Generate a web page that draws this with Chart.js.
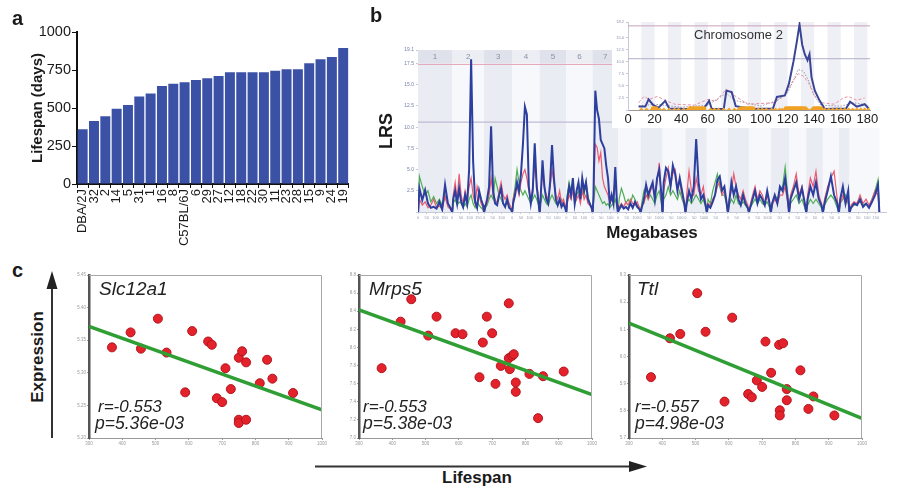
<!DOCTYPE html>
<html>
<head>
<meta charset="utf-8">
<script src="https://cdn.jsdelivr.net/npm/chart.js@4.4.1/dist/chart.umd.min.js"></script>
<style>
  body { margin: 0; background: #fff; width: 902px; height: 489px; position: relative; overflow: hidden;
         font-family: "Liberation Sans", Arial, sans-serif; }
  .box { position: absolute; }
  .t { position: absolute; white-space: nowrap; color: #1a1a1a; line-height: 1; }
  .rot { transform: translate(-50%, -50%) rotate(-90deg); }
  .it { font-style: italic; color: #222; }
</style>
</head>
<body>

<div class="box" style="left:0;top:0;width:360px;height:250px"><canvas id="chartA"></canvas></div>
<div class="box" style="left:370px;top:40px;width:532px;height:210px"><canvas id="chartB"></canvas></div>
<div class="box" style="left:612px;top:12px;width:278px;height:116px;background:#fff"><canvas id="chartInset"></canvas></div>
<div class="box" style="left:70px;top:268px;width:262px;height:180px"><canvas id="chartC1"></canvas></div>
<div class="box" style="left:340px;top:268px;width:262px;height:180px"><canvas id="chartC2"></canvas></div>
<div class="box" style="left:610px;top:268px;width:262px;height:180px"><canvas id="chartC3"></canvas></div>

<div class="t" style="left:12px;top:8px;font-size:20px;font-weight:bold">a</div>
<div class="t" style="left:370px;top:5px;font-size:20px;font-weight:bold">b</div>
<div class="t" style="left:12px;top:260px;font-size:20px;font-weight:bold">c</div>
<div class="t" style="left:694px;top:28px;font-size:13px;color:#333">Chromosome 2</div>

<div class="t rot" style="left:37px;top:357px;font-size:17px;font-weight:bold">Expression</div>
<div class="t" style="left:442px;top:469px;font-size:17px;font-weight:bold">Lifespan</div>

<div class="t it" style="left:99px;top:279px;font-size:19px">Slc12a1</div>
<div class="t it" style="left:98px;top:398px;font-size:17px">r=-0.553</div>
<div class="t it" style="left:95px;top:415px;font-size:17.5px">p=5.36e-03</div>

<div class="t it" style="left:369px;top:279px;font-size:19px">Mrps5</div>
<div class="t it" style="left:363px;top:398px;font-size:17px">r=-0.553</div>
<div class="t it" style="left:363px;top:415px;font-size:17.5px">p=5.38e-03</div>

<div class="t it" style="left:637px;top:279px;font-size:19px">Ttl</div>
<div class="t it" style="left:635px;top:398px;font-size:17px">r=-0.557</div>
<div class="t it" style="left:635px;top:415px;font-size:17.5px">p=4.98e-03</div>

<svg class="box" style="left:0;top:0" width="902" height="489">
  <line x1="52" y1="438" x2="52" y2="286" stroke="#333" stroke-width="2"/>
  <polygon points="46.5,289 57.5,289 52,271" fill="#222"/>
  <line x1="315" y1="466.5" x2="631" y2="466.5" stroke="#333" stroke-width="2"/>
  <polygon points="629,461 629,472 647,466.5" fill="#222"/>
</svg>

<script>
Chart.defaults.font.family = "'Liberation Sans', Arial, sans-serif";
Chart.defaults.animation = false;

// ---- panel a: lifespan per strain
const STRAINS  = ['DBA/2J','32','2','14','5','31','1','16','8','C57BL/6J','6','29','27','12',
                  '18','22','30','11','23','28','15','9','24','19'];
const LIFESPAN = [360, 415, 445, 495, 520, 575, 595, 645, 660, 670, 685, 695, 710, 735,
                  735, 735, 735, 745, 755, 755, 795, 820, 835, 895];

// ---- panel b: genome scan (LRS sampled evenly along each chromosome)
const CHROMS   = ['1','2','3','4','5','6','7','8','9','10','11','12','13','14','15','16','17','18','19','X'];
const CHROM_MB = [195, 182, 160, 157, 152, 150, 145, 129, 125, 131, 122, 120, 120, 125, 104, 98, 95, 91, 61, 171];
const SUGGESTIVE  = 10.6;
const SIGNIFICANT = 17.4;

const LRS_BLUE = [
  [2.8, 1.4, 2.6, 1.0, 0.5, 0.6, 0.4, 1.2, 0.3, 3.2, 1.0, 0.4],
  [1.5, 2.5, 1.0, 2.8, 1.2, 0.6, 2.0, 1.0, 5.0, 18.0, 6.0, 1.2, 0.5, 2.5, 1.5, 0.8],
  [0.5, 1.5, 3.0, 10.1, 2.5, 1.0, 0.8, 2.0, 2.8, 1.0, 0.6, 1.5, 0.5, 0.3],
  [1.0, 2.0, 3.5, 2.5, 4.5, 8.0, 12.4, 11.5, 3.0, 1.0, 2.5, 8.1, 3.0, 1.0],
  [1.5, 6.1, 3.0, 1.5, 1.0, 3.5, 7.9, 4.0, 1.5, 0.8, 1.5, 0.6, 1.0, 0.4],
  [1.5, 3.0, 2.0, 4.0, 1.0, 2.5, 3.5, 1.5, 4.0, 2.5, 3.5, 1.5, 1.0, 0.5],
  [2.0, 14.3, 12.0, 11.0, 8.5, 8.0, 7.5, 5.5, 4.0, 1.0, 2.0, 1.0, 5.3, 0.8],
  [0.3, 0.8, 0.4, 0.6, 0.3, 1.0, 0.5, 1.2, 0.6, 0.3],
  [0.5, 1.5, 3.2, 2.0, 2.8, 3.5, 1.5, 4.0, 5.0, 2.0],
  [3.5, 5.2, 4.8, 3.0, 5.5, 4.5, 2.5, 4.0, 2.5, 1.0],
  [1.0, 2.5, 1.5, 3.0, 8.6, 3.5, 1.5, 2.0, 0.8],
  [0.8, 0.5, 1.2, 2.0, 3.8, 4.2, 2.5, 3.0, 1.0],
  [1.0, 3.5, 2.0, 3.0, 1.5, 0.8, 2.0, 1.0, 0.5],
  [0.5, 1.5, 2.5, 1.0, 2.0, 1.5, 0.8, 2.5, 1.0],
  [1.0, 2.0, 1.0, 3.0, 2.5, 4.0, 1.5],
  [1.5, 2.5, 3.5, 1.5, 2.8, 1.0],
  [1.5, 3.0, 2.0, 3.5, 1.5, 0.8],
  [1.0, 2.5, 4.2, 2.0, 1.0],
  [1.5, 3.0, 1.0, 2.5],
  [0.5, 1.0, 0.8, 1.5, 0.6, 1.0, 0.5, 1.2, 2.0, 3.2]
];
const LRS_RED = [
  [1.5, 0.8, 1.2, 0.5, 0.8, 1.5, 0.5, 0.7, 0.4, 1.8, 0.6, 0.3],
  [2.0, 3.5, 1.5, 4.5, 2.0, 1.0, 2.5, 1.5, 3.0, 4.0, 2.0, 1.0, 3.0, 2.0, 1.0, 0.5],
  [0.8, 1.0, 2.0, 4.0, 2.0, 1.5, 1.0, 2.5, 3.5, 2.0, 1.5, 2.0, 1.0, 0.5],
  [1.5, 2.5, 3.0, 2.0, 3.5, 4.5, 5.0, 4.0, 2.5, 1.5, 3.0, 5.5, 3.5, 1.5],
  [2.0, 4.5, 3.0, 2.0, 1.5, 3.0, 5.0, 3.5, 2.0, 1.5, 2.5, 1.0, 1.5, 0.8],
  [1.0, 2.0, 1.5, 2.5, 1.0, 1.5, 2.0, 1.0, 2.5, 1.5, 2.0, 1.0, 0.8, 0.4],
  [1.5, 8.0, 7.6, 6.0, 7.0, 4.0, 3.0, 2.5, 2.0, 1.0, 1.5, 2.0, 4.0, 1.0],
  [0.5, 1.0, 0.6, 1.2, 0.8, 1.5, 1.0, 0.8, 1.2, 0.5],
  [0.8, 1.0, 2.0, 1.5, 2.5, 3.0, 2.0, 3.5, 5.8, 1.5],
  [2.5, 4.0, 5.2, 3.0, 4.5, 5.0, 3.0, 3.5, 2.0, 1.0],
  [2.0, 4.8, 2.5, 2.0, 4.0, 2.5, 2.0, 3.0, 1.0],
  [1.0, 0.8, 1.5, 2.0, 3.0, 3.5, 2.0, 2.5, 1.0],
  [1.5, 2.5, 4.5, 3.0, 2.0, 1.5, 2.5, 1.5, 0.8],
  [0.8, 2.0, 3.0, 1.5, 2.5, 2.0, 1.0, 2.0, 0.8],
  [0.8, 1.5, 1.0, 2.0, 2.0, 3.0, 1.0],
  [2.0, 3.0, 4.5, 2.0, 3.0, 1.0],
  [2.0, 4.0, 3.0, 4.8, 2.0, 1.0],
  [1.5, 3.0, 4.0, 4.8, 1.5],
  [1.0, 2.0, 1.0, 1.5],
  [0.8, 1.2, 1.0, 2.0, 1.0, 1.5, 0.8, 1.5, 2.5, 2.0]
];
const LRS_GREEN = [
  [4.2, 3.0, 2.0, 2.5, 1.2, 1.8, 1.0, 1.5, 0.8, 2.0, 1.0, 0.5],
  [1.0, 1.5, 0.8, 1.2, 1.0, 0.5, 1.0, 0.6, 1.5, 2.0, 1.0, 0.5, 1.2, 0.8, 0.5, 0.3],
  [0.5, 0.8, 1.5, 2.0, 1.5, 4.0, 3.0, 2.0, 1.5, 1.0, 0.8, 1.2, 0.5, 0.3],
  [1.5, 3.0, 5.0, 3.5, 2.5, 2.0, 2.5, 2.0, 1.5, 1.0, 1.5, 2.0, 1.5, 0.8],
  [1.0, 2.0, 1.5, 1.0, 0.8, 1.5, 2.0, 1.5, 1.0, 0.8, 1.2, 1.5, 0.8, 0.5],
  [2.0, 3.5, 2.5, 3.0, 1.5, 2.0, 2.5, 1.5, 3.0, 2.0, 3.5, 2.0, 1.0, 0.5],
  [1.0, 3.0, 2.5, 2.0, 1.5, 1.0, 1.2, 0.8, 1.0, 0.5, 0.8, 1.0, 1.5, 0.5],
  [1.5, 2.8, 2.0, 1.0, 1.5, 1.0, 2.0, 1.5, 0.8, 0.5],
  [1.0, 2.5, 3.0, 1.5, 2.0, 1.5, 1.0, 2.0, 2.5, 1.0],
  [1.5, 2.0, 3.0, 2.0, 2.5, 2.0, 1.5, 2.5, 1.5, 0.8],
  [1.0, 1.5, 1.0, 1.5, 2.0, 1.5, 1.0, 1.5, 0.5],
  [1.5, 1.0, 2.5, 3.5, 4.5, 3.0, 2.0, 2.0, 0.8],
  [0.8, 1.5, 1.0, 2.0, 1.0, 0.8, 1.2, 0.8, 0.4],
  [0.5, 1.0, 1.5, 1.0, 1.5, 1.0, 0.8, 1.2, 0.5],
  [1.0, 2.0, 1.5, 2.5, 3.0, 5.3, 2.0],
  [1.0, 1.5, 2.0, 1.0, 1.5, 0.5],
  [0.8, 1.5, 1.0, 1.5, 1.0, 0.5],
  [0.8, 1.5, 2.0, 1.5, 0.5],
  [1.0, 1.5, 2.0, 1.0],
  [0.5, 0.8, 1.0, 1.2, 0.8, 1.0, 0.6, 1.5, 2.5, 3.8]
];

// ---- inset: chromosome 2
const CHR2_TICKS    = [0, 20, 40, 60, 80, 100, 120, 140, 160, 180];
const CHR2_BLUE_MB  = [8, 13, 15.5, 19, 23, 28, 31, 45, 57, 61, 63, 72, 74, 78, 81, 94, 109, 112, 118, 121,
                       124.5, 127, 129, 131, 133, 135, 136.5, 138, 140.5, 144, 148, 164, 167, 172, 178, 181];
const CHR2_BLUE_LRS = [0.7, 0.7, 2.2, 1.0, 0.5, 1.9, 0.3, 0.2, 0.3, 1.9, 0.2, 0.2, 4.0, 3.7, 0.8, 0.2, 0.3, 2.7, 3.0, 5.4,
                       10.1, 14.2, 17.7, 13.5, 11.5, 10.3, 11.5, 6.8, 4.0, 2.0, 0.2, 0.3, 1.7, 0.7, 1.2, 0.3];
const CHR2_PINK_MB  = [8, 12, 16, 22, 28, 35, 50, 60, 66, 74, 80, 90, 110, 118, 124, 128, 132, 136, 140, 146, 155, 162, 166, 172, 178];
const CHR2_PINK_LRS = [1.5, 2.8, 2.2, 2.8, 2.0, 1.2, 1.0, 2.2, 1.8, 4.3, 3.0, 1.2, 1.5, 3.0, 6.0, 7.5, 7.0, 5.5, 3.0, 1.5, 1.2, 2.5, 2.8, 2.0, 2.5];
const CHR2_GREY_MB  = [8, 20, 40, 60, 74, 80, 100, 112, 120, 125, 128, 132, 136, 140, 145, 160, 170, 180];
const CHR2_GREY_LRS = [0.8, 1.2, 0.6, 1.0, 3.5, 2.0, 0.8, 2.0, 3.5, 6.5, 8.4, 8.0, 6.0, 3.0, 1.0, 0.8, 1.5, 1.0];
const SNP_SMALL_MB  = [10, 14, 18, 24, 27, 31, 35, 38, 42, 45, 62, 65, 68, 72, 76, 80, 83, 98, 101, 104, 108, 111, 114, 116,
                       135, 138, 148, 151, 154, 157, 160, 163, 166, 169, 172, 175, 178, 181];
const SNP_LARGE_MB  = [20, 48, 52, 56, 86, 90, 93, 120, 123, 126, 129, 132, 141, 144];

// ---- panel c: expression vs lifespan
const SLC_X = [369, 425, 456, 507, 533, 589, 610, 658, 669, 684, 700, 710, 726, 750, 760, 772, 750, 750, 772, 813, 835, 851, 913];
const SLC_Y = [5.339, 5.362, 5.337, 5.383, 5.331, 5.270, 5.364, 5.348, 5.343, 5.261, 5.255, 5.307, 5.275, 5.323, 5.333,
               5.316, 5.228, 5.223, 5.228, 5.284, 5.320, 5.291, 5.269];
const SLC_FIT = [5.371, 5.243];

const MRPS_X = [368, 425, 457, 508, 533, 590, 611, 662, 672, 684, 700, 710, 726, 750, 750, 753, 760, 765, 771, 771, 812, 838, 853, 915];
const MRPS_Y = [7.771, 8.285, 8.532, 8.131, 8.340, 8.157, 8.146, 7.671, 8.054, 8.340, 8.157, 7.598, 7.796, 8.487, 7.881,
                7.760, 7.907, 7.925, 7.613, 7.510, 7.708, 7.219, 7.682, 7.734];
const MRPS_FIT = [8.414, 7.480];

const TTL_X = [366, 423, 454, 505, 530, 587, 610, 658, 669, 684, 700, 710, 727, 751, 763, 753, 753, 774, 774, 815, 839, 854, 917];
const TTL_Y = [5.924, 6.067, 6.083, 6.233, 6.091, 5.834, 6.143, 5.862, 5.850, 5.912, 5.888, 6.055, 5.940, 6.043, 6.049,
               5.802, 5.783, 5.880, 5.839, 5.949, 5.807, 5.853, 5.783];
const TTL_FIT = [6.1225, 5.772];

// ------------------------------------------------------------------
const CHROM_START = [];
CHROM_MB.reduce((acc, len) => { CHROM_START.push(acc); return acc + len; }, 0);
const GENOME_END = CHROM_START[CHROM_START.length - 1] + CHROM_MB[CHROM_MB.length - 1];

function genomeSeries(perChrom) {
  const pts = [];
  perChrom.forEach((vals, i) => {
    const n = vals.length;
    pts.push({ x: CHROM_START[i] + 1, y: 0 });
    vals.forEach((v, k) => pts.push({ x: CHROM_START[i] + (k + 0.5) / n * CHROM_MB[i], y: v }));
    pts.push({ x: CHROM_START[i] + CHROM_MB[i] - 1, y: 0 });
    pts.push({ x: CHROM_START[i] + CHROM_MB[i], y: null });
  });
  return pts;
}
const zip = (xs, ys) => xs.map((x, i) => ({ x, y: ys[i] }));
const hline = (y, x0, x1) => [{ x: x0, y }, { x: x1, y }];

const noLegend = { legend: { display: false }, tooltip: { enabled: false } };

// ---- panel a
new Chart(document.getElementById('chartA'), {
  type: 'bar',
  data: {
    labels: STRAINS,
    datasets: [{ data: LIFESPAN, backgroundColor: '#3b51a6', barPercentage: 0.88, categoryPercentage: 1 }]
  },
  options: {
    responsive: true, maintainAspectRatio: false,
    layout: { padding: { top: 32, right: 10, left: 0, bottom: 0 } },
    plugins: noLegend,
    scales: {
      x: {
        grid: { drawOnChartArea: false, tickLength: 4, color: '#111' },
        border: { color: '#111', width: 2 },
        ticks: { maxRotation: 90, minRotation: 90, autoSkip: false, font: { size: 13 }, color: '#1a1a1a', padding: 1 },
        afterFit: s => { s.height = 66; }
      },
      y: {
        min: 0, max: 1000,
        ticks: { stepSize: 250, font: { size: 14.5 }, color: '#1a1a1a', padding: 1, callback: v => String(v) },
        grid: { drawOnChartArea: false, tickLength: 5, color: '#111' },
        border: { color: '#111', width: 2 },
        title: { display: true, text: 'Lifespan (days)', font: { size: 15, weight: 'bold' }, color: '#1a1a1a',
                 padding: { top: 29, bottom: 0 } },
        afterFit: s => { s.width = 77; }
      }
    }
  }
});

// ---- panel b, main scan
const chromBands = {
  id: 'chromBands',
  beforeDatasetsDraw(chart) {
    const { ctx, chartArea: { top, bottom }, scales: { x } } = chart;
    ctx.save();
    CHROMS.forEach((name, i) => {
      const x0 = x.getPixelForValue(CHROM_START[i]);
      const x1 = x.getPixelForValue(CHROM_START[i] + CHROM_MB[i]);
      ctx.fillStyle = i % 2 === 0 ? '#eaecf4' : '#f7f8fb';
      ctx.fillRect(x0, top, x1 - x0, bottom - top);
      ctx.fillStyle = i % 2 === 0 ? '#dfe2eb' : '#eceef4';
      ctx.fillRect(x0, top, x1 - x0, 13);
      ctx.fillStyle = '#8a8fa6';
      ctx.font = "8px 'Liberation Sans', Arial";
      ctx.textAlign = 'center';
      ctx.textBaseline = 'middle';
      ctx.fillText(name, (x0 + x1) / 2, top + 6.5);
    });
    ctx.restore();
  }
};

new Chart(document.getElementById('chartB'), {
  type: 'line',
  data: {
    datasets: [
      { data: hline(SIGNIFICANT, 0, GENOME_END), borderColor: '#e3a3b4', borderWidth: 1, pointRadius: 0, order: 4 },
      { data: hline(SUGGESTIVE, 0, GENOME_END), borderColor: '#b4aecb', borderWidth: 1, pointRadius: 0, order: 3 },
      { data: genomeSeries(LRS_GREEN), borderColor: '#4fae55', borderWidth: 1.2, pointRadius: 0, spanGaps: false, order: 2 },
      { data: genomeSeries(LRS_RED), borderColor: '#ec5a72', borderWidth: 1.2, pointRadius: 0, spanGaps: false, order: 1 },
      { data: genomeSeries(LRS_BLUE), borderColor: '#2c3f9e', borderWidth: 2, pointRadius: 0, spanGaps: false, order: 0 }
    ]
  },
  options: {
    responsive: true, maintainAspectRatio: false,
    layout: { padding: { top: 10, right: 16, left: 0, bottom: 0 } },
    plugins: noLegend,
    scales: {
      x: {
        type: 'linear', min: 0, max: 2670,
        afterBuildTicks: s => {
          const t = [];
          CHROM_MB.forEach((len, i) => { for (let m = 0; m < len - 20; m += 50) t.push({ value: CHROM_START[i] + m }); });
          s.ticks = t;
        },
        ticks: {
          autoSkip: false, maxRotation: 0, font: { size: 4 }, color: '#959bb3', padding: 1,
          callback: v => {
            let i = CHROM_START.length - 1;
            while (i > 0 && CHROM_START[i] > v) i--;
            return String(Math.round(v - CHROM_START[i]));
          }
        },
        grid: { drawOnChartArea: false, tickLength: 2, color: '#c5c9d8' },
        border: { color: '#c5c9d8' },
        title: { display: true, text: 'Megabases', font: { size: 17, weight: 'bold' }, color: '#1a1a1a',
                 padding: { top: 0, bottom: 6 } },
        afterFit: s => { s.height = 38; }
      },
      y: {
        min: 0, max: 19.1,
        ticks: { stepSize: 2.5, font: { size: 5 }, color: '#7880a8', padding: 2,
                 callback: v => v === 0 ? '' : v.toFixed(1) },
        grid: { drawOnChartArea: false, tickLength: 2, color: '#c5c9d8' },
        border: { color: '#c5c9d8' },
        title: { display: true, text: 'LRS', font: { size: 18, weight: 'bold' }, color: '#1a1a1a',
                 padding: { top: 6, bottom: 0 } },
        afterFit: s => { s.width = 48; }
      }
    }
  },
  plugins: [chromBands]
});

// ---- inset
const insetBands = {
  id: 'insetBands',
  beforeDatasetsDraw(chart) {
    const { ctx, chartArea: { top, bottom }, scales: { x } } = chart;
    ctx.save();
    ctx.fillStyle = '#eff0f5';
    for (let m = 10; m < 182; m += 20) {
      const x0 = x.getPixelForValue(m), x1 = x.getPixelForValue(Math.min(m + 10, 182));
      ctx.fillRect(x0, top, x1 - x0, bottom - top);
    }
    ctx.restore();
  }
};

new Chart(document.getElementById('chartInset'), {
  type: 'line',
  data: {
    datasets: [
      { data: hline(SIGNIFICANT, 0, 182), borderColor: '#c7a2bb', borderWidth: 1, pointRadius: 0, order: 6 },
      { data: hline(SUGGESTIVE, 0, 182), borderColor: '#b2adc8', borderWidth: 1, pointRadius: 0, order: 5 },
      { data: zip(CHR2_GREY_MB, CHR2_GREY_LRS), borderColor: '#9a9aae', borderWidth: 1, borderDash: [1.5, 1.5],
        pointRadius: 0, order: 4 },
      { data: zip(CHR2_PINK_MB, CHR2_PINK_LRS), borderColor: '#e88ea3', borderWidth: 1, borderDash: [3, 2],
        pointRadius: 0, order: 3 },
      { data: zip(CHR2_BLUE_MB, CHR2_BLUE_LRS), borderColor: '#3a4596', borderWidth: 2, pointRadius: 0, order: 2 },
      { type: 'scatter', data: SNP_SMALL_MB.map(m => ({ x: m, y: 0 })), pointStyle: 'rectRot', pointRadius: 2.4,
        backgroundColor: '#f2a429', borderWidth: 0, order: 1 },
      { type: 'scatter', data: SNP_LARGE_MB.map(m => ({ x: m, y: 0 })), pointStyle: 'rectRounded', pointRadius: 4.5,
        backgroundColor: '#f0a224', borderWidth: 0, order: 0 }
    ]
  },
  options: {
    responsive: true, maintainAspectRatio: false,
    layout: { padding: { top: 10, right: 20, left: 0, bottom: 0 } },
    plugins: noLegend,
    scales: {
      x: {
        type: 'linear', min: 0, max: 182,
        afterBuildTicks: s => { s.ticks = CHR2_TICKS.map(v => ({ value: v })); },
        ticks: { autoSkip: false, maxRotation: 0, minRotation: 0, font: { size: 13 }, color: '#222', padding: 2 },
        grid: { drawOnChartArea: false, drawTicks: false },
        border: { color: '#999' },
        afterFit: s => { s.height = 18; }
      },
      y: {
        min: 0, max: 18.2,
        ticks: { stepSize: 2.5, font: { size: 4 }, color: '#8a8fb0', padding: 2,
                 callback: v => v === 0 ? '' : v.toFixed(1) },
        grid: { drawOnChartArea: false, tickLength: 2, color: '#c5c9d8' },
        border: { color: '#c5c9d8' },
        afterFit: s => { s.width = 16; }
      }
    }
  },
  plugins: [insetBands]
});

// ---- panel c
const frame = {
  id: 'frame',
  afterDraw(chart) {
    const { ctx, chartArea: { left, right, top, bottom } } = chart;
    ctx.save();
    ctx.strokeStyle = '#a8a8a8';
    ctx.lineWidth = 1;
    ctx.beginPath();
    ctx.moveTo(left, top + 0.5); ctx.lineTo(right - 0.5, top + 0.5); ctx.lineTo(right - 0.5, bottom);
    ctx.stroke();
    ctx.restore();
  }
};

function scatterPanel(id, xs, ys, fit, yMin, yMax, yStep) {
  new Chart(document.getElementById(id), {
    type: 'scatter',
    data: {
      datasets: [
        { type: 'line', data: [{ x: 300, y: fit[0] }, { x: 1000, y: fit[1] }], borderColor: '#2f9e34',
          borderWidth: 3.5, pointRadius: 0, order: 0 },
        { data: zip(xs, ys), pointRadius: 4.5, pointBackgroundColor: '#e3222b', pointBorderColor: '#b3151d',
          pointBorderWidth: 1, order: 1 }
      ]
    },
    options: {
      responsive: true, maintainAspectRatio: false,
      layout: { padding: { top: 7, right: 10, left: 0, bottom: 0 } },
      plugins: noLegend,
      scales: {
        x: {
          type: 'linear', min: 300, max: 1000,
          ticks: { stepSize: 100, font: { size: 4.5 }, color: '#999', padding: 1, callback: v => String(v) },
          grid: { drawOnChartArea: false, tickLength: 2, color: '#999' },
          border: { color: '#999', width: 1 },
          afterFit: s => { s.height = 10; }
        },
        y: {
          min: yMin, max: yMax,
          ticks: { stepSize: yStep, font: { size: 4.5 }, color: '#999', padding: 1 },
          grid: { drawOnChartArea: false, tickLength: 2, color: '#999' },
          border: { color: '#555', width: 2.5 },
          afterFit: s => { s.width = 19; }
        }
      }
    },
    plugins: [frame]
  });
}

scatterPanel('chartC1', SLC_X, SLC_Y, SLC_FIT, 5.2, 5.45, 0.05);
scatterPanel('chartC2', MRPS_X, MRPS_Y, MRPS_FIT, 7.0, 8.8, 0.2);
scatterPanel('chartC3', TTL_X, TTL_Y, TTL_FIT, 5.7, 6.3, 0.1);
</script>
</body>
</html>
